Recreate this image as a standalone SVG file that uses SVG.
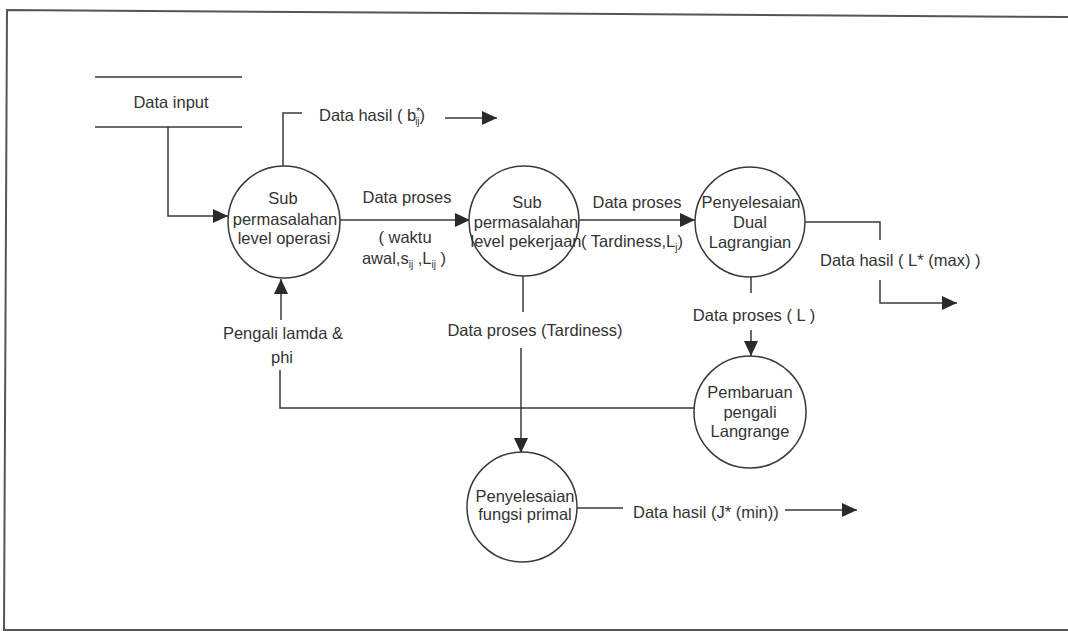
<svg xmlns="http://www.w3.org/2000/svg" width="1068" height="633" viewBox="0 0 1068 633">
<style>
  text { font-family: "Liberation Sans", Arial, sans-serif; font-size: 16.5px; fill: #333; }
  .c { text-anchor: middle; }
  .node circle { fill: #fff; stroke: #3a3a3a; stroke-width: 1.5; }
  .conn path, .conn line { fill: none; stroke: #3a3a3a; stroke-width: 1.5; }
  .frame { fill: none; stroke: #555; stroke-width: 2; }
  .sub { font-size: 10px; }
</style>
<defs>
  <marker id="arr" markerUnits="userSpaceOnUse" markerWidth="16" markerHeight="14" refX="15" refY="7" orient="auto">
    <path d="M0,0 L15,7 L0,14 Z" fill="#2a2a2a"/>
  </marker>
</defs>
<rect width="1068" height="633" fill="#fff"/>
<g id="frame">
  <path class="frame" d="M1068,17 L7,10 L4,630 L1068,630"/>
</g>

<g id="data-input">
  <line x1="95" y1="77" x2="242" y2="77" stroke="#3a3a3a" stroke-width="1.5"/>
  <line x1="95" y1="127" x2="242" y2="127" stroke="#3a3a3a" stroke-width="1.5"/>
  <text class="c" x="171" y="108">Data input</text>
</g>

<g class="conn" id="connectors">
  <path d="M168,127 V216 H228" marker-end="url(#arr)"/>
  <path d="M283,166 V113 H302"/>
  <path d="M445,118 H497" marker-end="url(#arr)"/>
  <path d="M340,220 H470" marker-end="url(#arr)"/>
  <path d="M579,220 H695" marker-end="url(#arr)"/>
  <path d="M805,222 H880 V240"/>
  <path d="M880,280 V303 H957" marker-end="url(#arr)"/>
  <path d="M751,277 V293"/>
  <path d="M751,330 V356" marker-end="url(#arr)"/>
  <path d="M694,408 H280 V370"/>
  <path d="M281,320 V279" marker-end="url(#arr)"/>
  <path d="M523,276 V312"/>
  <path d="M521,348 V453" marker-end="url(#arr)"/>
  <path d="M577,508 H623"/>
  <path d="M785,510 H857" marker-end="url(#arr)"/>
</g>

<g id="labels">
  <text x="319" y="121">Data hasil ( b<tspan class="sub" dy="-6">*</tspan><tspan class="sub" dx="-5" dy="10">ij</tspan><tspan dy="-4">)</tspan></text>
  <text class="c" x="407" y="203">Data proses</text>
  <text class="c" x="405" y="243">( waktu</text>
  <text class="c" x="404" y="264">awal,s<tspan class="sub" dy="4">ij</tspan><tspan dy="-4"> ,L</tspan><tspan class="sub" dy="4">ij</tspan><tspan dy="-4"> )</tspan></text>
  <text class="c" x="637" y="208">Data proses</text>
  <text x="581" y="247">( Tardiness,L<tspan class="sub" dy="4">j</tspan><tspan dy="-4">)</tspan></text>
  <text x="820" y="266">Data hasil ( L* (max) )</text>
  <text class="c" x="754" y="321">Data proses ( L )</text>
  <text class="c" x="283" y="339">Pengali lamda &amp;</text>
  <text class="c" x="282" y="363">phi</text>
  <text class="c" x="535" y="336">Data proses (Tardiness)</text>
  <text x="633" y="518">Data hasil (J* (min))</text>
</g>

<g class="node" id="sub-level-operasi">
  <circle cx="284" cy="222" r="56"/>
  <text class="c" x="283" y="204">Sub</text>
  <text class="c" x="285" y="225">permasalahan</text>
  <text class="c" x="284" y="244">level operasi</text>
</g>
<g class="node" id="sub-level-pekerjaan">
  <circle cx="524" cy="221" r="55"/>
  <text class="c" x="527" y="208">Sub</text>
  <text class="c" x="526" y="228">permasalahan</text>
  <text class="c" x="526" y="247">level pekerjaan</text>
</g>
<g class="node" id="dual-lagrangian">
  <circle cx="750" cy="222" r="55"/>
  <text class="c" x="751" y="208">Penyelesaian</text>
  <text class="c" x="750" y="228">Dual</text>
  <text class="c" x="750" y="248">Lagrangian</text>
</g>
<g class="node" id="pembaruan-pengali">
  <circle cx="750" cy="412" r="56"/>
  <text class="c" x="750" y="398">Pembaruan</text>
  <text class="c" x="750" y="418">pengali</text>
  <text class="c" x="750" y="437">Langrange</text>
</g>
<g class="node" id="fungsi-primal">
  <circle cx="522" cy="507" r="55"/>
  <text class="c" x="525" y="502">Penyelesaian</text>
  <text class="c" x="525" y="520">fungsi primal</text>
</g>
</svg>
